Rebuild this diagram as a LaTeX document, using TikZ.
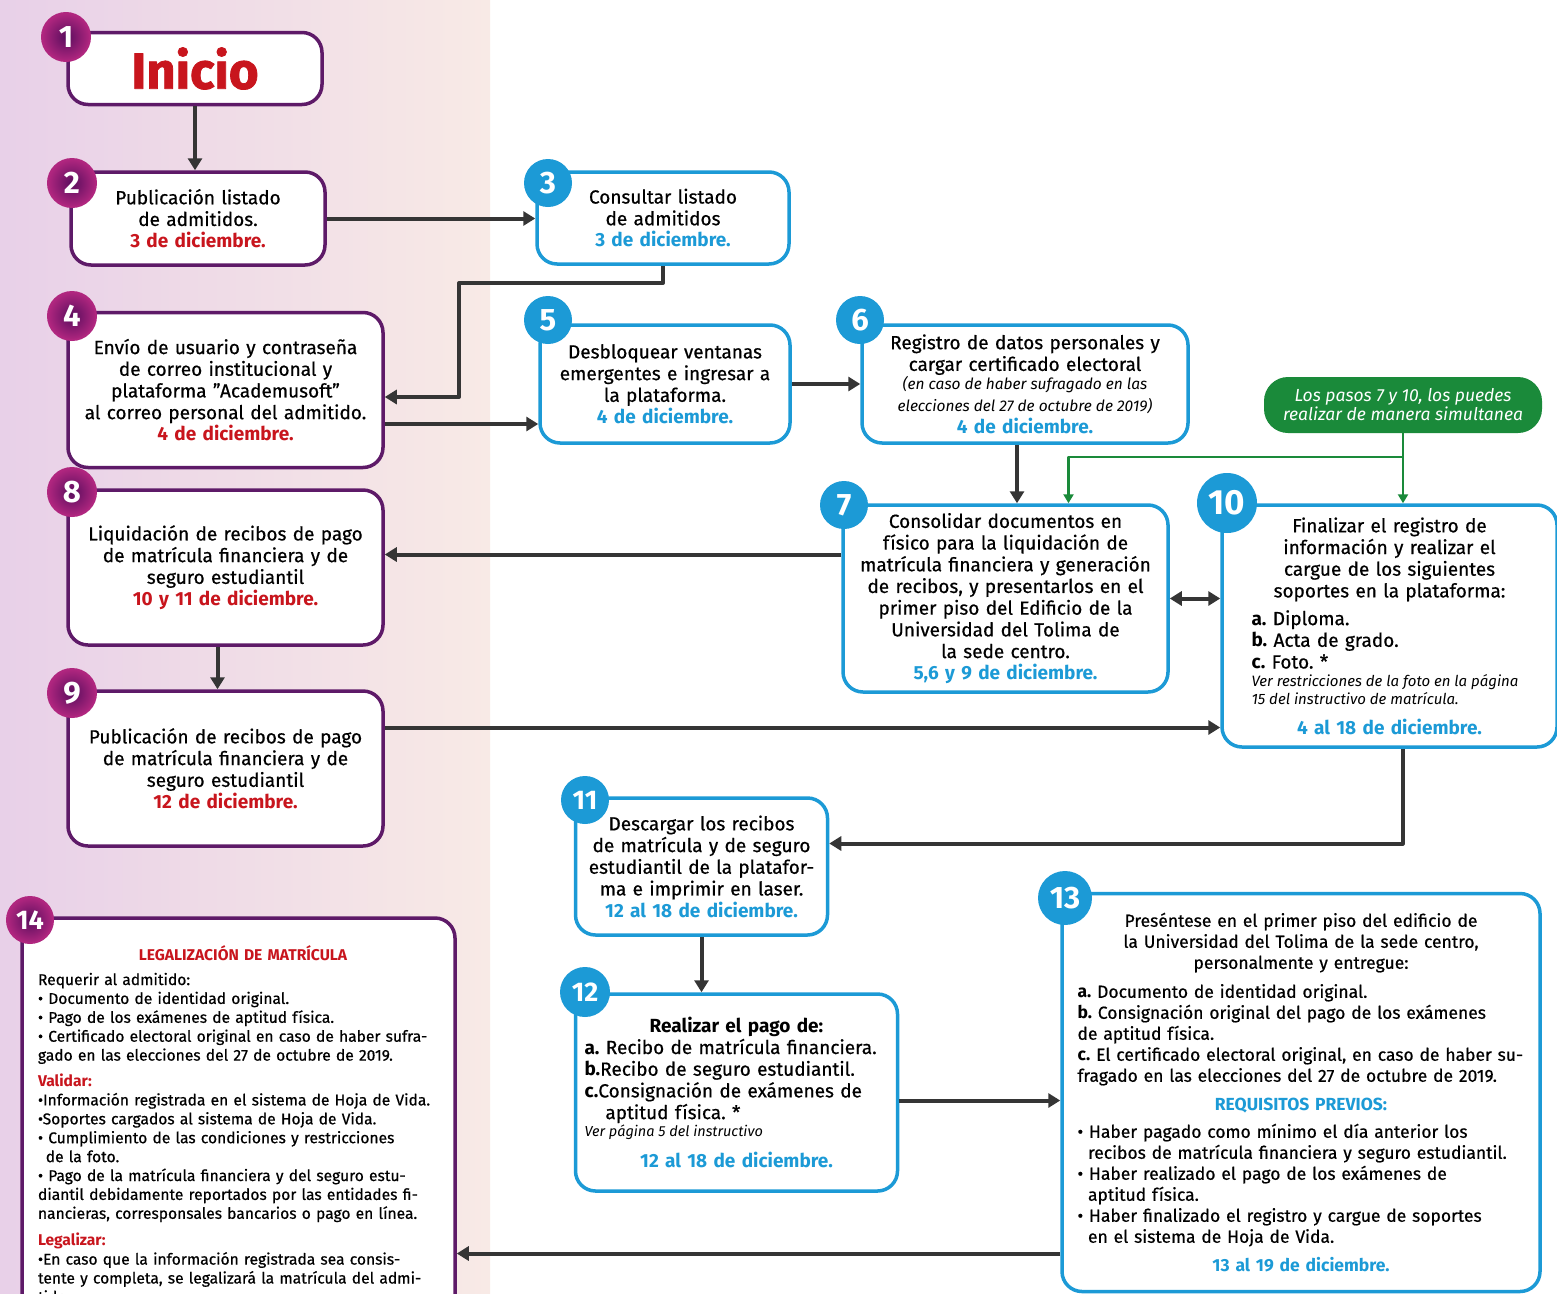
\documentclass[tikz,border=0pt]{standalone}
\usepackage{fontspec}
\setmainfont{Fira Sans}[UprightFeatures={FakeBold=0.6}]
\usetikzlibrary{arrows.meta}

\definecolor{morado}{HTML}{5E1A68}
\definecolor{moradoclaro}{HTML}{B0267F}
\definecolor{moradooscuro}{HTML}{5A0E5E}
\definecolor{azul}{HTML}{1C9AD6}
\definecolor{rojo}{HTML}{C8151D}
\definecolor{verde}{HTML}{1A8A3A}
\definecolor{gris}{HTML}{353535}
\definecolor{fondoizq}{HTML}{E8D0E8}
\definecolor{fondoder}{HTML}{F8EAE6}

\newcommand{\fecharoja}[1]{\textcolor{rojo}{\bfseries #1}}
\newcommand{\fechaazul}[1]{\textcolor{azul}{\bfseries #1}}
\newcommand{\notita}[1]{\fontsize{#1}{19}\selectfont\itshape\spaceskip=0.26em plus 0.05em\relax}

\begin{document}
\frenchspacing
\begin{tikzpicture}[x=1pt, y=-1pt, >={Triangle[length=12pt,width=14pt]}, line join=round]
    \tikzstyle{paso}=[rectangle, rounded corners=20pt, fill=white, line width=3.5pt, align=center, inner sep=0pt, font=\fontsize{19}{21.7}\selectfont]
    \tikzstyle{paso morado}=[paso, draw=morado]
    \tikzstyle{paso azul}=[paso, draw=azul]
    \tikzstyle{numero}=[circle, minimum size=48pt, inner sep=0pt, text=white, font=\fontsize{31}{31}\selectfont\bfseries]
    \tikzstyle{numero morado}=[numero, draw=moradoclaro, line width=2pt, inner color=moradooscuro, outer color=moradoclaro]
    \tikzstyle{numero azul}=[numero, fill=azul]
    \tikzstyle{flecha}=[draw=gris, line width=4pt, ->]
    \tikzstyle{flecha verde}=[draw=verde, line width=2.5pt, ->, >={Triangle[length=9pt,width=10pt]}]
    \tikzstyle{nota}=[rectangle, rounded corners=24pt, fill=verde, text=white, align=center, inner sep=0pt, font=\notita{17.5}]

    % background
    \useasboundingbox (0,0) rectangle (1557,1293);
    \clip (0,0) rectangle (1557,1293);
    \fill[white] (0,0) rectangle (1557,1293);
    \shade[left color=fondoizq, right color=fondoder] (0,0) rectangle (490,1293);

    % Draw the steps of the left column
    \node[paso morado, minimum width=254pt, minimum height=72pt] (P-1) at (195,68.5) {\fontsize{51}{54}\selectfont\bfseries\addfontfeature{FakeBold=1.5}\color{rojo}Inicio};
    \node[paso morado, minimum width=254pt, minimum height=93pt, text width=240pt] (P-2) at (198,218.5) {Publicación listado\\de admitidos.\\\fecharoja{3 de diciembre.}};
    \node[paso morado, minimum width=315pt, minimum height=155pt, text width=300pt] (P-4) at (225.5,390) {Envío de usuario y contraseña\\de correo institucional y\\plataforma "Academusoft"\\al correo personal del admitido.\\\fecharoja{4 de diciembre.}};
    \node[paso morado, minimum width=315pt, minimum height=155pt, text width=300pt] (P-8) at (225.5,567.5) {Liquidación de recibos de pago\\de matrícula financiera y de\\seguro estudiantil\\\fecharoja{10 y 11 de diciembre.}};
    \node[paso morado, minimum width=315pt, minimum height=155pt, text width=300pt] (P-9) at (225.5,768.5) {Publicación de recibos de pago\\de matrícula financiera y de\\seguro estudiantil\\\fecharoja{12 de diciembre.}};
    \node[paso morado, minimum width=433pt, minimum height=424pt] (P-14) at (238.5,1130) {};
    \node[anchor=north, text width=410pt, align=left, inner sep=0pt, font=\fontsize{15.6}{18.9}\selectfont] (T-14) at (243,945) {%
        {\centering\color{rojo}\bfseries LEGALIZACIÓN DE MATRÍCULA\par}
        \vspace{6pt}
        Requerir al admitido:\\
        • Documento de identidad original.\\
        • Pago de los exámenes de aptitud física.\\
        • Certificado electoral original en caso de haber sufra-\\
        gado en las elecciones del 27 de octubre de 2019.\par
        \vspace{7pt}
        {\color{rojo}\bfseries Validar:}\\
        •Información registrada en el sistema de Hoja de Vida.\\
        •Soportes cargados al sistema de Hoja de Vida.\\
        • Cumplimiento de las condiciones y restricciones\\
        \hspace*{0.5em}de la foto.\\
        • Pago de la matrícula financiera y del seguro estu-\\
        diantil debidamente reportados por las entidades fi-\\
        nancieras, corresponsales bancarios o pago en línea.\par
        \vspace{8pt}
        {\color{rojo}\bfseries Legalizar:}\\
        •En caso que la información registrada sea consis-\\
        tente y completa, se legalizará la matrícula del admi-\\
        tido.};

    % Draw the steps of the right part
    \node[paso azul, minimum width=252pt, minimum height=92pt, text width=240pt] (P-3) at (663,218) {Consultar listado\\de admitidos\\\fechaazul{3 de diciembre.}};
    \node[paso azul, minimum width=250pt, minimum height=118pt, text width=240pt] (P-5) at (665,384) {Desbloquear ventanas\\emergentes e ingresar a\\la plataforma.\\\fechaazul{4 de diciembre.}};
    \node[paso azul, minimum width=326pt, minimum height=118pt, text width=315pt] (P-6) at (1025,384) {Registro de datos personales y\\cargar certificado electoral\\{\notita{15.5}\mbox{(en caso de haber sufragado en las}\\\mbox{elecciones del 27 de octubre de 2019)}}\\\fechaazul{4 de diciembre.}};
    \node[nota, minimum width=278pt, minimum height=56pt] (G) at (1403,405) {Los pasos 7 y 10, los puedes\\realizar de manera simultanea};
    \node[paso azul, minimum width=325pt, minimum height=187pt, text width=315pt] (P-7) at (1005.5,598.5) {Consolidar documentos en\\físico para la liquidación de\\matrícula financiera y generación\\de recibos, y presentarlos en el\\primer piso del Edificio de la\\Universidad del Tolima de\\la sede centro.\\\fechaazul{5,6 y 9 de diciembre.}};
    \node[paso azul, minimum width=335pt, minimum height=242pt, text width=292pt] (P-10) at (1389.5,626) {%
        Finalizar el registro de\\información y realizar el\\cargue de los siguientes\\soportes en la plataforma:\par
        \vspace{6pt}
        {\raggedright\leftskip=8pt\textbf{a.} Diploma.\\\textbf{b.} Acta de grado.\\\textbf{c.} Foto. *\par
        {\notita{15}\baselineskip=18pt\mbox{Ver restricciones de la foto en la página}\\\mbox{15 del instructivo de matrícula.}\par}}
        \vspace{8pt}
        \fechaazul{4 al 18 de diciembre.}};
    \node[paso azul, minimum width=252pt, minimum height=137pt, text width=240pt] (P-11) at (701.5,866.5) {Descargar los recibos\\de matrícula y de seguro\\estudiantil de la platafor-\\ma e imprimir en laser.\\\fechaazul{12 al 18 de diciembre.}};
    \node[paso azul, minimum width=322pt, minimum height=197pt, text width=304pt] (P-12) at (736.5,1092.5) {%
        {\bfseries Realizar el pago de:}\par
        {\raggedright\textbf{a.} Recibo de matrícula financiera.\\\textbf{b.}Recibo de seguro estudiantil.\\\textbf{c.}Consignación de exámenes de\\\hspace*{1.1em}aptitud física. *\par
        {\notita{14.5}\baselineskip=17pt\mbox{Ver página 5 del instructivo}\par}}
        \vspace{10pt}
        \fechaazul{12 al 18 de diciembre.}};
    \node[paso azul, minimum width=478pt, minimum height=398pt, text width=455pt, font=\fontsize{17.5}{21}\selectfont] (P-13) at (1301,1092.5) {%
        Preséntese en el primer piso del edificio de\\la Universidad del Tolima de la sede centro,\\personalmente y entregue:\par
        \vspace{8pt}
        {\raggedright\leftskip=4pt\textbf{a.} Documento de identidad original.\\\textbf{b.} Consignación original del pago de los exámenes\\de aptitud física.\\\textbf{c.} El certificado electoral original, en caso de haber su-\\fragado en las elecciones del 27 de octubre de 2019.\par}
        \vspace{8pt}
        {\color{azul}\bfseries REQUISITOS PREVIOS:\par}
        \vspace{6pt}
        {\raggedright\leftskip=4pt • Haber pagado como mínimo el día anterior los\\\hspace*{0.6em}recibos de matrícula financiera y seguro estudiantil.\\• Haber realizado el pago de los exámenes de\\\hspace*{0.6em}aptitud física.\\• Haber finalizado el registro y cargue de soportes\\\hspace*{0.6em}en el sistema de Hoja de Vida.\par}
        \vspace{8pt}
        \fechaazul{13 al 19 de diciembre.}};

    % Connect the steps
    \coordinate (C-34) at (459,283);
    \coordinate (C-verde) at (1403,457);
    \draw[flecha] (P-1.south) -- (P-1.south |- P-2.north);
    \draw[flecha] (P-2.east) -- (P-2.east -| P-3.west);
    \draw[flecha] (P-3.south) |- (C-34) |- ([yshift=-7pt]P-4.east);
    \draw[flecha] ([yshift=-34pt]P-4.east) -- ([yshift=-34pt]P-4.east -| P-5.west);
    \draw[flecha] (P-5.east) -- (P-5.east -| P-6.west);
    \draw[flecha] ([xshift=-8pt]P-6.south) -- ([xshift=-8pt]P-6.south |- P-7.north);
    \draw[flecha verde] (G.south) -- (G.south |- P-10.north);
    \draw[flecha verde] (C-verde) -| ([xshift=63pt]P-7.north);
    \draw[flecha] ([yshift=44pt]P-7.west) -- ([yshift=44pt]P-7.west -| P-8.east);
    \draw[flecha, <->] (P-7.east) -- (P-7.east -| P-10.west);
    \draw[flecha] ([xshift=-8pt]P-8.south) -- ([xshift=-8pt]P-8.south |- P-9.north);
    \draw[flecha] ([yshift=41pt]P-9.east) -- ([yshift=41pt]P-9.east -| P-10.west);
    \draw[flecha] ([xshift=13pt]P-10.south) |- ([yshift=23pt]P-11.east);
    \draw[flecha] (P-11.south) -- (P-11.south |- P-12.north);
    \draw[flecha] ([yshift=-8pt]P-12.east) -- ([yshift=-8pt]P-12.east -| P-13.west);
    \draw[flecha] ([yshift=-161pt]P-13.west) -- ([yshift=-161pt]P-13.west -| P-14.east);

    % Number the steps
    \node[numero morado] (N-1) at (66,37) {1};
    \node[numero morado] (N-2) at (72,183) {2};
    \node[numero morado] (N-4) at (72,316) {4};
    \node[numero morado] (N-8) at (72,492) {8};
    \node[numero morado] (N-9) at (72,693) {9};
    \node[numero morado, minimum size=46pt, font=\fontsize{27}{27}\selectfont\bfseries] (N-14) at (30,920) {14};
    \node[numero azul] (N-3) at (548,183) {3};
    \node[numero azul] (N-5) at (548,320) {5};
    \node[numero azul] (N-6) at (860,320) {6};
    \node[numero azul] (N-7) at (844,505) {7};
    \node[numero azul, minimum size=60pt, font=\fontsize{35}{35}\selectfont\bfseries] (N-10) at (1227,503) {10};
    \node[numero azul, font=\fontsize{27}{27}\selectfont\bfseries] (N-11) at (585,800) {11};
    \node[numero azul, minimum size=50pt, font=\fontsize{27}{27}\selectfont\bfseries] (N-12) at (585,992) {12};
    \node[numero azul, minimum size=54pt, font=\fontsize{31}{31}\selectfont\bfseries] (N-13) at (1065,898) {13};
\end{tikzpicture}
\end{document}
